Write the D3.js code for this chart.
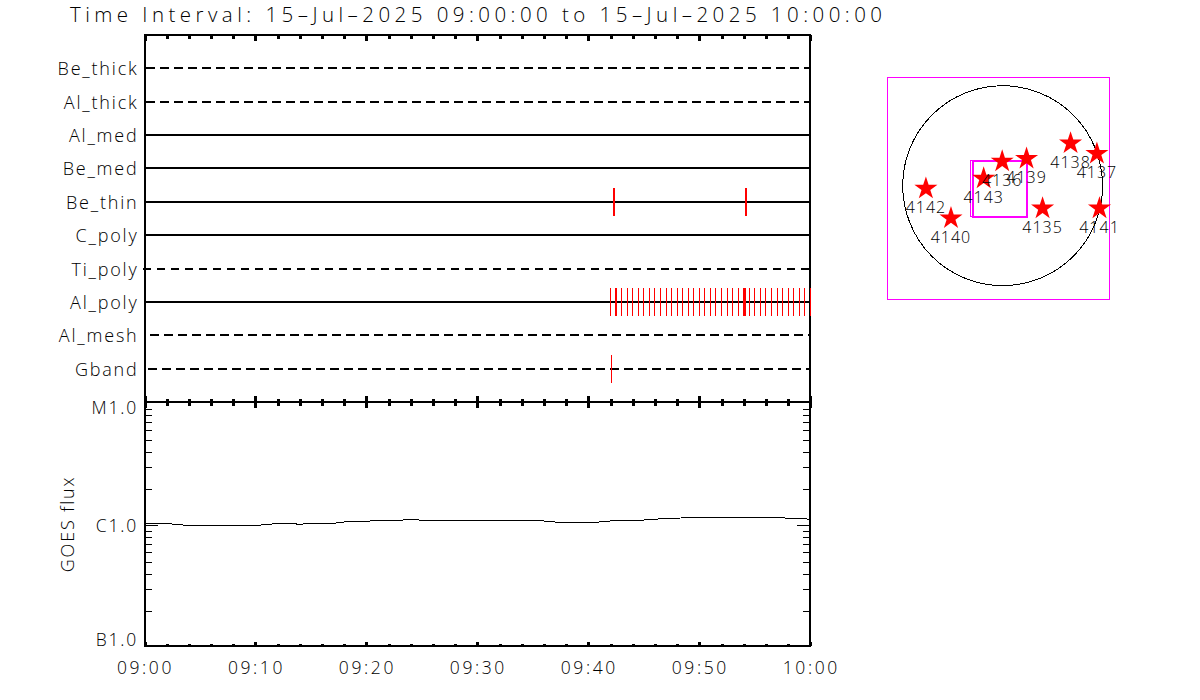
<!DOCTYPE html>
<html>
<head>
<meta charset="utf-8">
<script src="https://cdn.jsdelivr.net/npm/d3@7"></script>
<style>
    body { margin: 0; background: #fff; }
    svg { display: block; }
    text { font-family: "Open Sans", sans-serif; font-weight: 300; fill: #000; }
</style>
</head>
<body>
<div id="chart"></div>
<script>
const title = 'Time Interval: 15\u2013Jul\u20132025 09:00:00 to 15\u2013Jul\u20132025 10:00:00'

// channels, top to bottom
const channels = ['Be_thick', 'Al_thick', 'Al_med', 'Be_med', 'Be_thin', 'C_poly', 'Ti_poly', 'Al_poly', 'Al_mesh', 'Gband']
const dashedChannels = ['Be_thick', 'Al_thick', 'Ti_poly', 'Al_mesh', 'Gband']

// exposure times, minutes after 09:00
const beThinTimes = [42.3, 54.2]
const gbandTimes = [42.05]
const alPolyTimes = [42.0, 42.45, 42.55, 43.0, 43.5, 44.0, 44.5, 45.0, 45.5, 46.0, 46.5, 47.0, 47.5, 48.0, 48.5, 49.0, 49.5, 50.0, 50.5,
    51.0, 51.5, 52.0, 52.5, 53.0, 53.5, 53.95, 54.05, 54.15, 54.5, 55.0, 55.5, 56.0, 56.5, 57.0, 57.5, 58.0, 58.5, 59.0, 59.5, 60.0]

// GOES flux per minute from 09:00, in units of 1e-6 W/m2
const goesFlux = [1.038, 1.038, 1.038, 1.011, 1.000, 1.000, 1.000, 1.000, 1.000, 1.000, 1.000,
    1.011, 1.038, 1.038, 1.019, 1.038, 1.038, 1.038, 1.064, 1.078, 1.078,
    1.099, 1.099, 1.099, 1.120, 1.099, 1.099, 1.099, 1.085, 1.085, 1.085,
    1.105, 1.105, 1.105, 1.085, 1.085, 1.085, 1.064, 1.064, 1.064, 1.064,
    1.064, 1.085, 1.085, 1.105, 1.105, 1.120, 1.141, 1.141, 1.163, 1.163,
    1.163, 1.163, 1.163, 1.163, 1.163, 1.163, 1.163, 1.141, 1.141, 1.120]
const goesLabels = ['B1.0', 'C1.0', 'M1.0']

// active regions, heliocentric arcsec
const regionNames = ['4135', '4136', '4137', '4138', '4139', '4140', '4141', '4142', '4143']
const regionX = [384, -4, 906, 653, 230, -496, 931, -737, -182]
const regionY = [-205, 246, 320, 420, 272, -300, -205, -15, 82]

// instrument fields of view, arcsec
const fovX0 = [-305, -288]
const fovX1 = [232, 232]
const fovY0 = [-298, -298]
const fovY1 = [240, 240]

const solarRadius = 960

const width = 1200, height = 700
const svg = d3.select('#chart').append('svg').attr('width', width).attr('height', height)

const t0 = Date.UTC(2025, 6, 15, 9, 0)
const toDate = m => new Date(t0 + m * 60000)

const x = d3.scaleUtc().domain([toDate(0), toDate(60)]).range([144.5, 810.3])
const yRow = d3.scalePoint().domain(channels).range([35, 402]).padding(1)
const yGoes = d3.scaleLog().domain([1e-7, 1e-5]).range([647.3, 403.3])

// solar map, 9.6 arcsec per pixel
const mapX = d3.scaleLinear().domain([-1106, 1027]).range([887.5, 1109.5])
const mapY = d3.scaleLinear().domain([-1088, 1039]).range([299, 77.5])

svg.append('text').attr('x', 70).attr('y', 22)
    .attr('font-size', 20.5)
    .attr('textLength', 812)
    .attr('lengthAdjust', 'spacing')
    .text(title)

// channel rows
const dashStart = { Be_thick: 146, Al_thick: 146, Ti_poly: 142.7, Al_mesh: 150, Gband: 148.3 }
svg.append('g').selectAll('line').data(channels).join('line')
    .attr('x1', d => dashStart[d] || x.range()[0])
    .attr('x2', x.range()[1])
    .attr('y1', d => Math.round(yRow(d)))
    .attr('y2', d => Math.round(yRow(d)))
    .attr('stroke', '#000')
    .attr('stroke-width', 2)
    .attr('stroke-dasharray', d => dashedChannels.includes(d) ? '8.5 5.5' : null)
    .attr('shape-rendering', 'crispEdges')

svg.append('g').selectAll('text').data(channels).join('text')
    .attr('x', 138.5)
    .attr('y', d => yRow(d) + 7)
    .attr('text-anchor', 'end')
    .attr('font-size', 18)
    .attr('letter-spacing', 1.8)
    .text(d => d)

// frames
const frame = svg.append('g').attr('stroke', '#000').attr('stroke-width', 2).attr('shape-rendering', 'crispEdges')
frame.append('line').attr('x1', x.range()[0]).attr('x2', x.range()[0]).attr('y1', 34).attr('y2', 647)
frame.append('line').attr('x1', x.range()[1]).attr('x2', x.range()[1]).attr('y1', 34).attr('y2', 647)
const axisYs = [35, 402, 646]
frame.selectAll('.hline').data(axisYs).join('line').attr('class', 'hline')
    .attr('x1', x.range()[0]).attr('x2', x.range()[1] + 1)
    .attr('y1', d => d).attr('y2', d => d)

// time ticks drawn with d3 axes, minor every 2 minutes and major every 10
const minorTicks = d3.utcMinute.range(toDate(0), toDate(61), 2).filter(d => d.getUTCMinutes() % 10 !== 0)
const majorTicks = d3.utcMinute.range(toDate(0), toDate(61), 10)

function timeTicks(y, values, up, down) {
    let g = svg.append('g').attr('transform', `translate(0,${y - up})`)
        .call(d3.axisBottom(x).tickValues(values).tickSize(up + down).tickFormat(''))
    g.select('.domain').remove()
    g.selectAll('line').attr('stroke-width', 3).attr('shape-rendering', 'crispEdges')
}
timeTicks(35, minorTicks, 0, 4)
timeTicks(35, majorTicks, 0, 6)
timeTicks(402, minorTicks, 3.5, 3.5)
timeTicks(402, majorTicks, 6, 6)
timeTicks(646, minorTicks, 2, 0)
timeTicks(646, majorTicks, 4, 0)

svg.append('g').selectAll('text').data(majorTicks).join('text')
    .attr('x', d => x(d) + 1)
    .attr('y', 674)
    .attr('text-anchor', 'middle')
    .attr('font-size', 17.5)
    .attr('letter-spacing', 2.6)
    .text(d3.utcFormat('%H:%M'))

// GOES log axis ticks, both sides
const goesTicks = yGoes.ticks().filter(d => d > 1.01e-7 && d < 0.99e-5)
const isDecade = d => Math.abs(Math.log10(d) - Math.round(Math.log10(d))) < 1e-6
;[[x.range()[0], d3.axisRight], [x.range()[1], d3.axisLeft]].forEach(([px, axisFn]) => {
    let g = svg.append('g').attr('transform', `translate(${px},0)`)
    g.append('g').call(axisFn(yGoes).tickValues(goesTicks.filter(d => !isDecade(d))).tickSize(7).tickFormat(''))
    g.append('g').call(axisFn(yGoes).tickValues(goesTicks.filter(isDecade)).tickSize(13).tickFormat(''))
    g.selectAll('.domain').remove()
    g.selectAll('line').attr('stroke-width', 1).attr('shape-rendering', 'crispEdges')
})

const goesLabelY = { 'B1.0': 646, 'C1.0': 532, 'M1.0': 414 }
svg.append('g').selectAll('text').data(goesLabels).join('text')
    .attr('x', 138)
    .attr('y', d => goesLabelY[d])
    .attr('text-anchor', 'end')
    .attr('font-size', 17.5)
    .attr('letter-spacing', 1.8)
    .text(d => d)

svg.append('text')
    .attr('transform', 'translate(74,524) rotate(-90)')
    .attr('text-anchor', 'middle')
    .attr('font-size', 18)
    .attr('letter-spacing', 1.8)
    .text('GOES flux')

const goesLine = d3.line()
    .x((d, i) => x(toDate(i)))
    .y(d => yGoes(d * 1e-6))

svg.append('path').datum(goesFlux)
    .attr('d', goesLine)
    .attr('fill', 'none')
    .attr('stroke', '#000')
    .attr('stroke-width', 1)
    .attr('shape-rendering', 'crispEdges')

// exposure marks
function expMarks(times, channel, halfHeight, thick) {
    svg.append('g').selectAll('line').data(times).join('line')
        .attr('x1', d => x(toDate(d)))
        .attr('x2', d => x(toDate(d)))
        .attr('y1', yRow(channel) - halfHeight)
        .attr('y2', yRow(channel) + halfHeight)
        .attr('stroke', '#f00')
        .attr('stroke-width', thick)
        .attr('shape-rendering', 'crispEdges')
}
expMarks(beThinTimes, 'Be_thin', 14, 2)
expMarks(alPolyTimes, 'Al_poly', 14, 1)
expMarks(gbandTimes, 'Gband', 14, 1)

// solar map
const map = svg.append('g')
map.append('rect')
    .attr('x', mapX.range()[0]).attr('y', mapY.range()[1])
    .attr('width', mapX.range()[1] - mapX.range()[0])
    .attr('height', mapY.range()[0] - mapY.range()[1])
    .attr('fill', 'none').attr('stroke', '#f0f').attr('stroke-width', 1)
    .attr('shape-rendering', 'crispEdges')

map.append('ellipse')
    .attr('cx', mapX(0)).attr('cy', mapY(0))
    .attr('rx', mapX(solarRadius) - mapX(0))
    .attr('ry', mapY(0) - mapY(solarRadius))
    .attr('fill', 'none').attr('stroke', '#000').attr('stroke-width', 1)
    .attr('shape-rendering', 'crispEdges')

map.selectAll('.fov').data(fovX0).join('rect').attr('class', 'fov')
    .attr('x', (d, i) => mapX(fovX0[i]))
    .attr('y', (d, i) => mapY(fovY1[i]))
    .attr('width', (d, i) => mapX(fovX1[i]) - mapX(fovX0[i]))
    .attr('height', (d, i) => mapY(fovY0[i]) - mapY(fovY1[i]))
    .attr('fill', 'none').attr('stroke', '#f0f')
    .attr('stroke-width', (d, i) => i === 0 ? 1 : 2)
    .attr('shape-rendering', 'crispEdges')

map.selectAll('.star').data(regionNames).join('path').attr('class', 'star')
    .attr('d', d3.symbol().type(d3.symbolStar).size(165))
    .attr('transform', (d, i) => `translate(${mapX(regionX[i])},${mapY(regionY[i]) + 1.3})`)
    .attr('fill', '#f00')

map.selectAll('.label').data(regionNames).join('text').attr('class', 'label')
    .attr('x', (d, i) => mapX(regionX[i]))
    .attr('y', (d, i) => mapY(regionY[i]) + 26)
    .attr('text-anchor', 'middle')
    .attr('font-size', 16)
    .attr('letter-spacing', 1)
    .text(d => d)
</script>
</body>
</html>
